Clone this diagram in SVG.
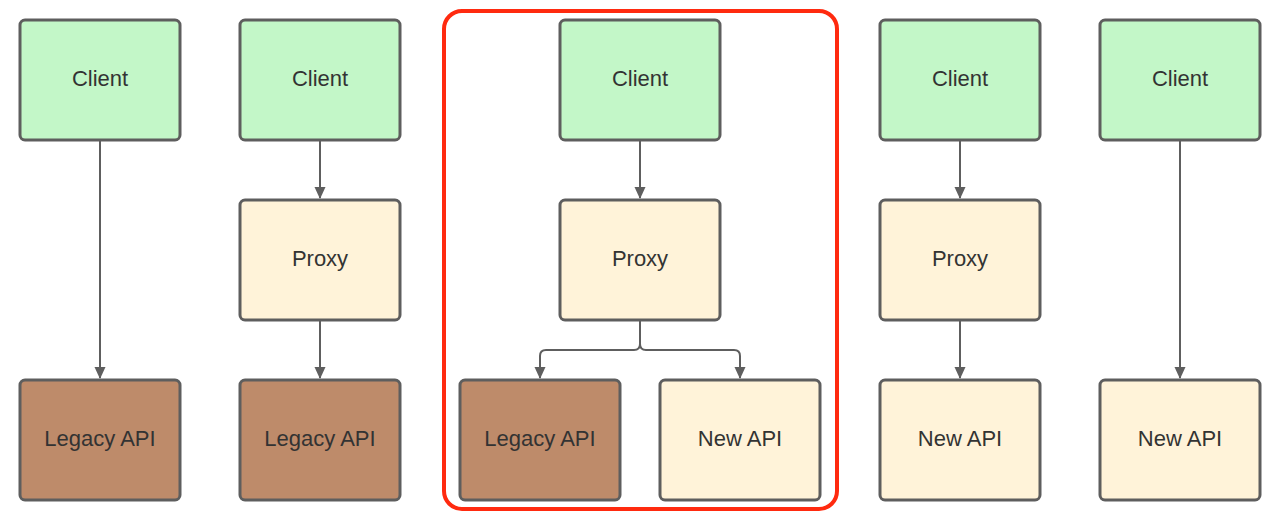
<svg xmlns="http://www.w3.org/2000/svg" width="1280" height="520" viewBox="0 0 1280 520">
<defs>
<style>
.n{stroke:#5e5e5e;stroke-width:3}
.client{fill:#c3f7c8}
.proxy{fill:#fff3d9}
.legacy{fill:#be8b6a}
.newapi{fill:#fff3d9}
.t{font-family:"Liberation Sans",Arial,sans-serif;font-size:22px;fill:#333;text-anchor:middle;dominant-baseline:central}
.c{fill:none;stroke:#5e5e5e;stroke-width:2}
</style>
<marker id="ah" markerWidth="12" markerHeight="14" refX="11" refY="5.5" orient="auto" markerUnits="userSpaceOnUse" viewBox="0 0 12 11">
<path d="M0,0 L12,5.5 L0,11 Z" fill="#5e5e5e"/>
</marker>
</defs>
<rect id="highlight" x="444" y="11" width="393" height="498" rx="18" fill="none" stroke="#ff2a0f" stroke-width="4"/>
<g id="connectors">
<path class="c" d="M100,141 V378" marker-end="url(#ah)"/>
<path class="c" d="M320,141 V198" marker-end="url(#ah)"/>
<path class="c" d="M320,321 V378" marker-end="url(#ah)"/>
<path class="c" d="M640,141 V198" marker-end="url(#ah)"/>
<path class="c" d="M640,321 V344 Q640,350 634,350 H546 Q540,350 540,356 V378" marker-end="url(#ah)"/>
<path class="c" d="M640,321 V344 Q640,350 646,350 H734 Q740,350 740,356 V378" marker-end="url(#ah)"/>
<path class="c" d="M960,141 V198" marker-end="url(#ah)"/>
<path class="c" d="M960,321 V378" marker-end="url(#ah)"/>
<path class="c" d="M1180,141 V378" marker-end="url(#ah)"/>
</g>
<g id="client1"><rect class="n client" x="20" y="20" width="160" height="120" rx="5"/><text class="t" x="100" y="78">Client</text></g>
<g id="legacy1"><rect class="n legacy" x="20" y="380" width="160" height="120" rx="5"/><text class="t" x="100" y="438">Legacy API</text></g>
<g id="client2"><rect class="n client" x="240" y="20" width="160" height="120" rx="5"/><text class="t" x="320" y="78">Client</text></g>
<g id="proxy2"><rect class="n proxy" x="240" y="200" width="160" height="120" rx="5"/><text class="t" x="320" y="258">Proxy</text></g>
<g id="legacy2"><rect class="n legacy" x="240" y="380" width="160" height="120" rx="5"/><text class="t" x="320" y="438">Legacy API</text></g>
<g id="client3"><rect class="n client" x="560" y="20" width="160" height="120" rx="5"/><text class="t" x="640" y="78">Client</text></g>
<g id="proxy3"><rect class="n proxy" x="560" y="200" width="160" height="120" rx="5"/><text class="t" x="640" y="258">Proxy</text></g>
<g id="legacy3"><rect class="n legacy" x="460" y="380" width="160" height="120" rx="5"/><text class="t" x="540" y="438">Legacy API</text></g>
<g id="new3"><rect class="n newapi" x="660" y="380" width="160" height="120" rx="5"/><text class="t" x="740" y="438">New API</text></g>
<g id="client4"><rect class="n client" x="880" y="20" width="160" height="120" rx="5"/><text class="t" x="960" y="78">Client</text></g>
<g id="proxy4"><rect class="n proxy" x="880" y="200" width="160" height="120" rx="5"/><text class="t" x="960" y="258">Proxy</text></g>
<g id="new4"><rect class="n newapi" x="880" y="380" width="160" height="120" rx="5"/><text class="t" x="960" y="438">New API</text></g>
<g id="client5"><rect class="n client" x="1100" y="20" width="160" height="120" rx="5"/><text class="t" x="1180" y="78">Client</text></g>
<g id="new5"><rect class="n newapi" x="1100" y="380" width="160" height="120" rx="5"/><text class="t" x="1180" y="438">New API</text></g>
</svg>
